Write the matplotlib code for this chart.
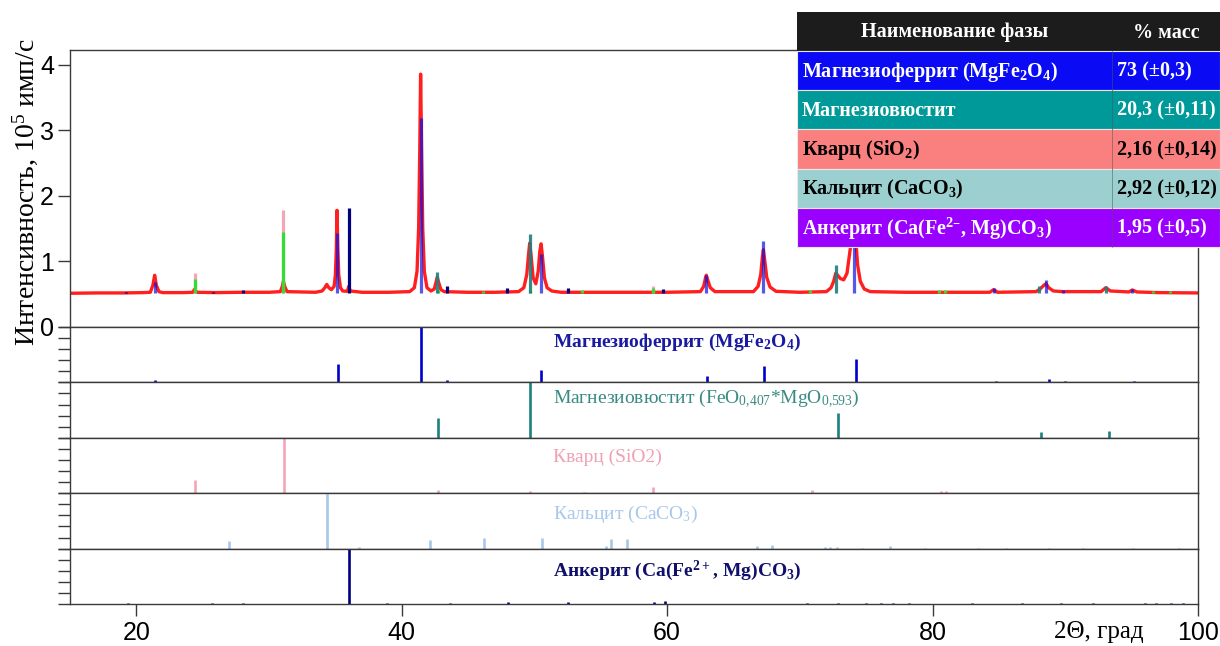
import matplotlib
matplotlib.use("Agg")
import matplotlib.pyplot as plt
from matplotlib.patches import Rectangle

plt.rcParams['font.family'] = ['Liberation Sans', 'DejaVu Sans']
plt.rcParams['mathtext.default'] = 'regular'

# ---------------- data ----------------
# observed pattern (2theta, intensity in 1e5 counts/s)
obs_2theta = [15.0, 17.0, 19.0, 20.5, 21.05, 21.25, 21.38, 21.5, 21.7, 22.0, 23.5, 24.25, 24.4, 24.55,
              26.0, 28.0, 30.0, 30.85, 31.0, 31.08, 31.18, 31.35, 33.5, 34.0, 34.2, 34.35, 34.5, 34.7,
              34.9, 35.0, 35.07, 35.12, 35.18, 35.25, 35.38, 35.55, 35.9, 36.0, 36.12, 37.0, 39.0,
              40.6, 40.95, 41.15, 41.27, 41.35, 41.42, 41.5, 41.58, 41.7, 41.9, 42.2, 42.45, 42.58,
              42.68, 42.78, 42.95, 43.2, 45.0, 47.0, 48.8, 49.2, 49.42, 49.55, 49.64, 49.74, 49.9,
              50.1, 50.28, 50.4, 50.5, 50.6, 50.75, 50.95, 51.3, 52.0, 56.0, 60.0, 62.5, 62.75, 62.9,
              62.95, 63.05, 63.25, 63.6, 66.5, 66.85, 67.05, 67.18, 67.25, 67.35, 67.5, 67.75, 68.2,
              70.0, 72.0, 72.35, 72.55, 72.7, 72.8, 73.05, 73.3, 73.55, 73.8, 73.95, 74.05, 74.15,
              74.35, 74.55, 74.85, 75.3, 78.0, 81.0, 84.3, 84.6, 84.9, 87.8, 88.1, 88.4, 88.55, 88.75,
              89.1, 89.8, 92.7, 93.05, 93.4, 94.8, 95.05, 95.4, 97.0, 100.0]
obs_int = [0.515, 0.52, 0.52, 0.525, 0.53, 0.64, 0.79, 0.64, 0.54, 0.525, 0.525, 0.53, 0.58, 0.53,
           0.525, 0.53, 0.53, 0.54, 0.62, 0.70, 0.62, 0.54, 0.53, 0.55, 0.60, 0.65, 0.60, 0.57,
           0.62, 0.80, 1.20, 1.78, 1.20, 0.80, 0.60, 0.55, 0.545, 0.62, 0.55, 0.53, 0.53,
           0.54, 0.60, 0.85, 1.50, 2.60, 3.86, 2.60, 1.50, 0.85, 0.60, 0.55, 0.58, 0.68,
           0.76, 0.68, 0.57, 0.54, 0.53, 0.53, 0.54, 0.60, 0.80, 1.10, 1.28, 1.10, 0.75,
           0.66, 0.85, 1.15, 1.27, 1.08, 0.75, 0.60, 0.55, 0.53, 0.53, 0.53, 0.54, 0.62, 0.76,
           0.79, 0.72, 0.60, 0.54, 0.54, 0.62, 0.80, 1.08, 1.18, 1.02, 0.76, 0.61, 0.545,
           0.53, 0.54, 0.60, 0.70, 0.82, 0.80, 0.74, 0.72, 0.82, 1.20, 1.65, 1.78, 1.50,
           0.95, 0.70, 0.58, 0.54, 0.53, 0.53, 0.53, 0.57, 0.53, 0.54, 0.58, 0.64, 0.66, 0.60,
           0.55, 0.54, 0.54, 0.60, 0.55, 0.535, 0.565, 0.535, 0.525, 0.52]
base_level = 0.52

# phase contributions drawn in the upper plot (position, top intensity)
mf_main_pos = [21.38, 35.12, 41.42, 50.5, 62.95, 67.25, 74.05, 84.6, 88.55, 89.85, 95.05]
mf_main_top = [0.68, 1.43, 3.19, 1.12, 0.79, 1.31, 2.10, 0.60, 0.71, 0.57, 0.58]
mw_main_pos = [42.68, 49.64, 72.72, 88.05, 93.06]
mw_main_top = [0.84, 1.42, 0.94, 0.62, 0.62]
qz_main_pos = [24.4, 31.08, 42.7, 46.15, 49.7, 53.6, 58.9, 70.8, 80.45, 80.95, 96.6, 97.9]
qz_main_top = [0.73, 1.45, 0.56, 0.545, 0.56, 0.56, 0.60, 0.57, 0.57, 0.57, 0.545, 0.545]
qz_ref_pos = [24.4, 31.08, 58.9]
qz_ref_top = [0.82, 1.78, 0.63]
ak_main_pos = [19.25, 25.8, 28.0, 36.0, 43.4, 47.95, 52.5, 59.7]
ak_main_top = [0.54, 0.54, 0.57, 1.81, 0.62, 0.60, 0.60, 0.58]

# reference stick patterns (relative intensities)
mf_pos = [21.4, 35.2, 41.45, 43.4, 50.5, 55.4, 62.97, 67.3, 74.2, 79.5, 84.8, 88.75, 90.0, 95.2, 98.9]
mf_rel = [0.05, 0.34, 1.0, 0.04, 0.23, 0.01, 0.11, 0.30, 0.42, 0.01, 0.03, 0.07, 0.03, 0.03, 0.01]
mw_pos = [42.7, 49.66, 72.85, 88.2, 93.3]
mw_rel = [0.35, 1.0, 0.45, 0.11, 0.12]
qz_pos = [24.4, 31.1, 42.7, 46.1, 49.7, 53.7, 58.9, 70.9, 80.6, 81.0, 88.1, 91.0, 93.5, 96.3, 97.9]
qz_rel = [0.24, 1.0, 0.05, 0.01, 0.04, 0.02, 0.11, 0.06, 0.04, 0.04, 0.01, 0.01, 0.01, 0.01, 0.01]
cc_pos = [26.97, 34.4, 36.75, 42.1, 46.2, 50.6, 55.4, 55.8, 57.0, 66.8, 67.9, 71.9, 72.3, 72.8,
          74.7, 76.8, 79.4, 83.4, 85.5, 88.8, 91.3, 95.1, 98.6]
cc_rel = [0.13, 1.0, 0.02, 0.15, 0.19, 0.19, 0.05, 0.17, 0.17, 0.04, 0.06, 0.03, 0.03, 0.03,
          0.01, 0.04, 0.01, 0.01, 0.01, 0.01, 0.01, 0.01, 0.01]
ak_pos = [19.4, 25.7, 28.0, 36.0, 38.9, 43.6, 48.0, 52.5, 58.97, 59.8, 70.5, 72.9, 75.0, 76.1,
          77.0, 78.2, 83.0, 86.7, 89.7, 92.1, 96.0, 96.8, 98.0, 98.9]
ak_rel = [0.01, 0.01, 0.02, 1.0, 0.01, 0.02, 0.03, 0.03, 0.04, 0.05, 0.01, 0.01, 0.01, 0.01,
          0.01, 0.01, 0.01, 0.01, 0.01, 0.01, 0.01, 0.01, 0.01, 0.01]

panel_labels = ["Магнезиоферрит (MgFe$_2$O$_4$)",
                "Магнезиовюстит (FeO$_{0{,}407}$*MgO$_{0{,}593}$)",
                "Кварц (SiO2)",
                "Кальцит (CaCO$_3$)",
                "Анкерит (Ca(Fe$^{2+}$, Mg)CO$_3$)"]

table_header = ["Наименование фазы", "% масс"]
table_phases = ["Магнезиоферрит (MgFe$_2$O$_4$)", "Магнезиовюстит", "Кварц (SiO$_2$)",
                "Кальцит (CaCO$_3$)", "Анкерит (Ca(Fe$^{2–}$, Mg)CO$_3$)"]
table_mass = ["73 (±0,3)", "20,3 (±0,11)", "2,16 (±0,14)", "2,92 (±0,12)", "1,95 (±0,5)"]

x_ticks = [20, 40, 60, 80, 100]
y_ticks = [0, 1, 2, 3, 4]

# ---------------- figure ----------------
W, H = 1220, 646
fig = plt.figure(figsize=(W / 100, H / 100), dpi=100)
fig.patch.set_facecolor('white')

def fx(px):
    return px / W

def fy(py):
    return 1 - py / H

L, R = 70, 1198
main_top, main_bot = 50, 327
panel_h = (604 - 327) / 5

spine_col = '#3a3a3a'
tick_len = 8.6
serif = ['Liberation Serif', 'DejaVu Serif']

ax = fig.add_axes([fx(L), fy(main_bot), fx(R - L), (main_bot - main_top) / H])
ax.set_xlim(15, 100)
ax.set_ylim(0, 4.229)
ax.plot(obs_2theta, obs_int, color='#ff1f1f', lw=2.4, zorder=2, solid_joinstyle='round')
ax.vlines(qz_ref_pos, base_level, qz_ref_top, color='#f4a6b8', lw=2.3, zorder=3)
ax.vlines(qz_main_pos, base_level, qz_main_top, color='#33dd33', lw=2.3, zorder=4)
ax.vlines(mw_main_pos, base_level, mw_main_top, color='#1f7f7f', lw=2.3, zorder=4, alpha=0.9)
ax.vlines(mf_main_pos, base_level, mf_main_top, color='#1010e0', lw=2.3, zorder=4, alpha=0.7)
ax.vlines(ak_main_pos, base_level, ak_main_top, color='#000080', lw=2.3, zorder=4)
ax.set_yticks(y_ticks)
ax.set_yticklabels([str(v) for v in y_ticks], fontsize=18, family=['Liberation Sans', 'DejaVu Sans'])
ax.set_xticks([])
ax.tick_params(axis='y', direction='out', length=tick_len, width=1.0, color=spine_col, pad=3)
for s in ax.spines.values():
    s.set_color(spine_col)
    s.set_linewidth(1.0)

panel_data = [(mf_pos, mf_rel, '#0000cc'), (mw_pos, mw_rel, '#1a8080'), (qz_pos, qz_rel, '#f4a6b8'),
              (cc_pos, cc_rel, '#a6c8ea'), (ak_pos, ak_rel, '#000080')]
label_colors = ['#1a1aa0', '#3a8a84', '#f0a0b4', '#a8c8ea', '#10106a']
label_weights = ['bold', 'normal', 'normal', 'normal', 'bold']
label_y = [0.645, 0.62, 0.56, 0.54, 0.51]

for i, (pos, rel, col) in enumerate(panel_data):
    top = main_bot + i * panel_h
    pax = fig.add_axes([fx(L), fy(top + panel_h), fx(R - L), panel_h / H])
    pax.set_xlim(15, 100)
    pax.set_ylim(0, 1.0)
    pax.vlines(pos, 0, rel, color=col, lw=1.9)
    pax.set_yticks([0, 0.2, 0.4, 0.6, 0.8, 1.0])
    pax.set_yticklabels([])
    pax.tick_params(axis='y', direction='out', length=tick_len, width=1.0, color=spine_col)
    for s in pax.spines.values():
        s.set_color(spine_col)
        s.set_linewidth(1.0)
    pax.text(0.428, label_y[i], panel_labels[i], transform=pax.transAxes, color=label_colors[i],
             fontsize=14, family=serif, fontweight=label_weights[i],
             ha='left', va='baseline')
    if i == 4:
        pax.set_xticks(x_ticks)
        pax.set_xticklabels([str(v) for v in x_ticks], fontsize=18,
                            family=['Liberation Sans', 'DejaVu Sans'])
        pax.tick_params(axis='x', direction='out', length=tick_len, width=1.0, color=spine_col, pad=4)
    else:
        pax.set_xticks([])

# axis labels
fig.text(fx(25), fy(192), 'Интенсивность, 10$^5$ имп/с', rotation=90, ha='center', va='center',
         fontsize=20, family=serif)
fig.text(fx(1099), fy(632), '2Θ, град', ha='center', va='center', fontsize=18, family=serif)

# ---------------- table ----------------
tx0, tx1, tcol = 797, 1220, 1112
ty0 = 12
header_h = 39
row_h = 39.2
row_colors = ['#0a0af5', '#009999', '#fa8080', '#9ccfcf', '#9900ff']
text_colors = ['white', 'white', 'black', 'black', 'white']
tfs = 14.5

fig.patches.append(Rectangle((fx(tx0), fy(ty0 + header_h)), fx(tx1 - tx0), header_h / H,
                             transform=fig.transFigure, facecolor='#1c1c1c', edgecolor='none', zorder=10))
fig.text(fx((tx0 + tcol) / 2), fy(ty0 + header_h / 2 + 1), table_header[0], ha='center', va='center',
         color='white', fontsize=tfs, fontweight='bold', family=serif, zorder=12)
fig.text(fx((tcol + tx1) / 2), fy(ty0 + header_h / 2 + 1), table_header[1], ha='center', va='center',
         color='white', fontsize=tfs, fontweight='bold', family=serif, zorder=12)
for i in range(len(table_phases)):
    y_top = ty0 + header_h + i * row_h
    fig.patches.append(Rectangle((fx(tx0), fy(y_top + row_h)), fx(tx1 - tx0), row_h / H,
                                 transform=fig.transFigure, facecolor=row_colors[i],
                                 edgecolor='#e8e8e8', linewidth=0.8, zorder=10))
    fig.lines.append(plt.Line2D([fx(tcol), fx(tcol)], [fy(y_top), fy(y_top + row_h)],
                                transform=fig.transFigure, color='#555555', lw=0.6, alpha=0.6, zorder=11))
    fig.text(fx(tx0 + 5), fy(y_top + row_h / 2 + 1), table_phases[i], ha='left', va='center',
             color=text_colors[i], fontsize=tfs, fontweight='bold', family=serif, zorder=12)
    fig.text(fx(tcol + 5), fy(y_top + row_h / 2 + 1), table_mass[i], ha='left', va='center',
             color=text_colors[i], fontsize=tfs, fontweight='bold', family=serif, zorder=12)

fig.savefig('out.png', dpi=100, facecolor='white')
